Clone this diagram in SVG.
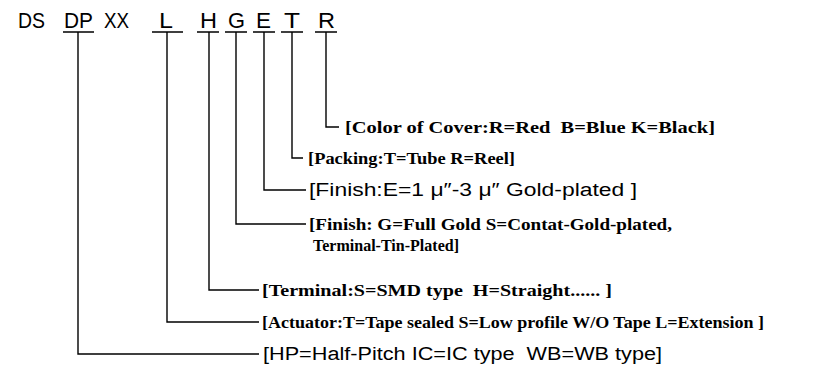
<svg xmlns="http://www.w3.org/2000/svg" width="816" height="368" viewBox="0 0 816 368">
<style>
text{white-space:pre}
.code{font-family:"Liberation Sans",Arial,sans-serif;font-size:22px;fill:#000}
.b{font-family:"Liberation Serif","Times New Roman",serif;font-weight:bold;font-size:17px;fill:#000}
.r{font-family:"Liberation Sans",Arial,sans-serif;font-size:18px;fill:#000}
.ln{stroke:#000;stroke-width:1.4;fill:none}
</style>
<rect width="816" height="368" fill="#fff"/>
<g id="code">
<text class="code" x="18" y="28" textLength="27" lengthAdjust="spacingAndGlyphs">DS</text>
<text class="code" x="64" y="28" textLength="29" lengthAdjust="spacingAndGlyphs">DP</text>
<text class="code" x="104" y="28" textLength="25" lengthAdjust="spacingAndGlyphs">XX</text>
<text class="code" x="159" y="28" textLength="14" lengthAdjust="spacingAndGlyphs">L</text>
<text class="code" x="200" y="28" textLength="17" lengthAdjust="spacingAndGlyphs">H</text>
<text class="code" x="228" y="28" textLength="17" lengthAdjust="spacingAndGlyphs">G</text>
<text class="code" x="256" y="28" textLength="15" lengthAdjust="spacingAndGlyphs">E</text>
<text class="code" x="284" y="28" textLength="16" lengthAdjust="spacingAndGlyphs">T</text>
<text class="code" x="318" y="28" textLength="17" lengthAdjust="spacingAndGlyphs">R</text>
</g>
<g id="connectors" class="ln">
<path d="M63 32H94M78 32V354H259"/>
<path d="M152 32H183M167 32V322H259"/>
<path d="M197 32H219M209 32V290H259"/>
<path d="M225 32H247M236 32V224H306"/>
<path d="M253 32H275M264 32V190H306"/>
<path d="M281 32H303M292 32V158H303"/>
<path d="M315 32H337M326 32V127H339"/>
</g>
<g id="cover"><text class="b" x="345" y="133" textLength="370" lengthAdjust="spacingAndGlyphs">[Color of Cover:R=Red  B=Blue K=Black]</text></g>
<g id="packing"><text class="b" x="308" y="164" textLength="207" lengthAdjust="spacingAndGlyphs">[Packing:T=Tube R=Reel]</text></g>
<g id="finish-e"><text class="r" x="309" y="196" textLength="328" lengthAdjust="spacingAndGlyphs">[Finish:E=1 μ″-3 μ″ Gold-plated ]</text></g>
<g id="finish-g"><text class="b" x="309" y="230" textLength="363" lengthAdjust="spacingAndGlyphs">[Finish: G=Full Gold S=Contat-Gold-plated,</text>
<text class="b" x="313" y="251" textLength="146" lengthAdjust="spacingAndGlyphs">Terminal-Tin-Plated]</text></g>
<g id="terminal"><text class="b" x="262" y="296" textLength="350" lengthAdjust="spacingAndGlyphs">[Terminal:S=SMD type  H=Straight...... ]</text></g>
<g id="actuator"><text class="b" x="262" y="328" textLength="502" lengthAdjust="spacingAndGlyphs">[Actuator:T=Tape sealed S=Low profile W/O Tape L=Extension ]</text></g>
<g id="type"><text class="r" x="263" y="360" textLength="399" lengthAdjust="spacingAndGlyphs">[HP=Half-Pitch IC=IC type  WB=WB type]</text></g>
</svg>
